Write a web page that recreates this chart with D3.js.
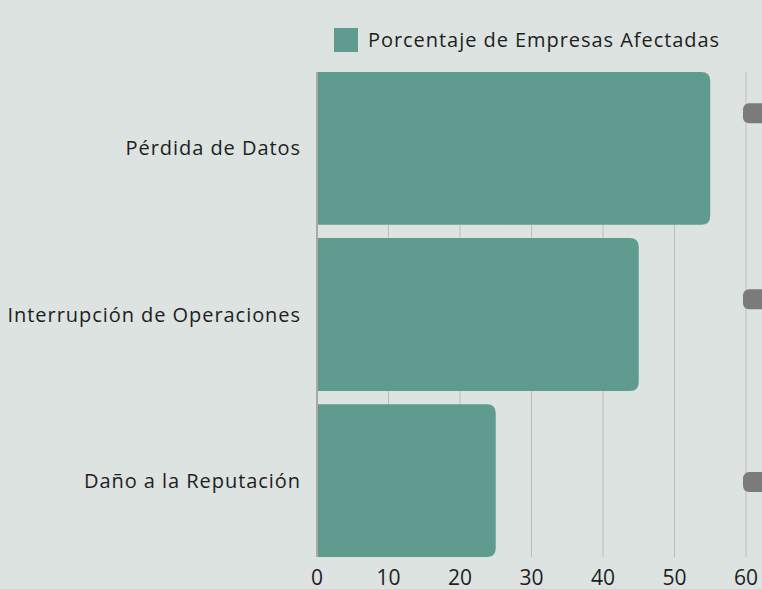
<!DOCTYPE html>
<meta charset="utf-8">
<style>
    body { margin: 0; background: #dce3e1; }
    svg { display: block; font-family: "Open Sans", Lato, sans-serif; }
    .grid line { stroke: #bdbdbd; stroke-width: 1; }
    .label { fill: #1e1e1e; font-size: 20px; letter-spacing: 0.95px; }
    .tick-label { fill: #1e1e1e; font-size: 21px; }
</style>
<body>
<script src="https://d3js.org/d3.v7.min.js"></script>
<script>
    // Data
    var categories = ["Pérdida de Datos", "Interrupción de Operaciones", "Daño a la Reputación"];
    var values = [55, 45, 25];
    var xTicks = [0, 10, 20, 30, 40, 50, 60];
    var seriesName = "Porcentaje de Empresas Afectadas";
    // the grey tabs peeking in at the right edge (fraction of each band)
    var tabOffsets = [0.27, 0.40, 0.51];

    var width = 762, height = 589;
    var margin = { top: 72, right: 16, bottom: 32, left: 317 };
    var innerW = width - margin.left - margin.right,
        innerH = height - margin.top - margin.bottom;

    var svg = d3.select("body").append("svg")
        .attr("width", width)
        .attr("height", height);

    svg.append("rect").attr("width", width).attr("height", height).attr("fill", "#dce3e1");

    var x = d3.scaleLinear().domain([0, 60]).range([0, 429]);
    var y = d3.scaleBand().domain(categories).range([0, innerH]).paddingInner(0.08).paddingOuter(0);

    var g = svg.append("g")
        .attr("transform", "translate(" + margin.left + "," + margin.top + ")");

    // vertical gridlines
    g.append("g")
        .attr("class", "grid")
        .selectAll("line")
        .data(xTicks.slice(1))
        .enter().append("line")
        .attr("x1", function (d) { return x(d); })
        .attr("x2", function (d) { return x(d); })
        .attr("y1", 0)
        .attr("y2", innerH);

    // bars, rounded on the right end only
    var r = 9;
    g.selectAll(".bar")
        .data(values)
        .enter().append("path")
        .attr("class", "bar")
        .attr("fill", "#5f9c8f")
        .attr("d", function (d, i) {
            var y0 = y(categories[i]), h = y.bandwidth(), w = x(d);
            return "M0," + y0 + "H" + (w - r) + "Q" + w + "," + y0 + " " + w + "," + (y0 + r) +
                "V" + (y0 + h - r) + "Q" + w + "," + (y0 + h) + " " + (w - r) + "," + (y0 + h) +
                "H0Z";
        });

    // left axis line
    g.append("line")
        .attr("x1", 0).attr("x2", 0)
        .attr("y1", 0).attr("y2", innerH)
        .attr("stroke", "#a9a9a9").attr("stroke-width", 2);

    // grey tabs cut off at the right edge
    g.selectAll(".tab")
        .data(categories)
        .enter().append("rect")
        .attr("class", "tab")
        .attr("x", x(60) - 3)
        .attr("y", function (d, i) { return y(d) + y.bandwidth() * tabOffsets[i] - 10; })
        .attr("width", 40)
        .attr("height", 20)
        .attr("rx", 6)
        .attr("fill", "#7b7b7b");

    // category labels
    g.selectAll(".cat")
        .data(categories)
        .enter().append("text")
        .attr("class", "label")
        .attr("x", -16)
        .attr("y", function (d) { return y(d) + y.bandwidth() / 2; })
        .attr("dy", "0.35em")
        .attr("text-anchor", "end")
        .text(function (d) { return d; });

    // x tick labels
    g.selectAll(".tick-label")
        .data(xTicks)
        .enter().append("text")
        .attr("class", "tick-label")
        .attr("x", function (d) { return x(d); })
        .attr("y", innerH + 28)
        .attr("text-anchor", "middle")
        .text(function (d) { return d; });

    // legend
    var legend = svg.append("g").attr("transform", "translate(334,28)");
    legend.append("rect").attr("width", 24).attr("height", 24).attr("fill", "#5f9c8f");
    legend.append("text")
        .attr("class", "label")
        .attr("x", 34)
        .attr("y", 12)
        .attr("dy", "0.35em")
        .text(seriesName);
</script>
</body>
